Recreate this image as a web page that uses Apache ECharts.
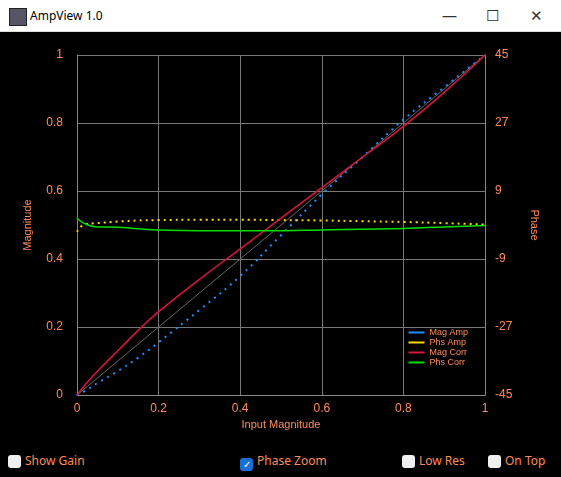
<!DOCTYPE html>
<html><head><meta charset="utf-8">
<script src="https://cdn.jsdelivr.net/npm/echarts@6/dist/echarts.min.js"></script>
<style>
body{margin:0;width:561px;height:477px;overflow:hidden;font-family:"Segoe UI","Noto Sans",sans-serif;background:#000}
#bar{position:absolute;left:0;top:0;width:561px;height:31px;background:#fff;border-bottom:1px solid #ddd}
#bar .t{position:absolute;left:30px;top:7px;font-size:12px;color:#000}
#bar .ic{position:absolute;left:9px;top:8px;width:16px;height:16px;background:#556;border:1px solid #222}
#bar .b{position:absolute;top:5px;font-size:15px;color:#333}
#chart{position:absolute;left:0;top:32px;width:561px;height:410px}
.cb{position:absolute;top:452px;font-size:12px;color:#ff8c5a}
.cb i{display:inline-block;width:13px;height:13px;border-radius:3px;background:#f0f0f0;vertical-align:-3px;margin-right:4px}
.cb i.on{background:#1a6fd0;color:#fff;font-style:normal;font-size:10px;line-height:13px;text-align:center}
</style></head><body>
<div id="bar"><div class="ic"></div><span class="t">AmpView 1.0</span>
<span class="b" style="left:442px">&#8212;</span><span class="b" style="left:486px">&#9744;</span><span class="b" style="left:530px">&#10005;</span></div>
<div id="chart"></div>
<div class="cb" style="left:8px"><i></i>Show Gain</div>
<div class="cb" style="left:240px"><i class="on">&#10003;</i>Phase Zoom</div>
<div class="cb" style="left:402px"><i></i>Low Res</div>
<div class="cb" style="left:488px"><i></i>On Top</div>
<script>
var xs      = [0, 0.02, 0.05, 0.1, 0.15, 0.2, 0.3, 0.4, 0.5, 0.6, 0.7, 0.8, 0.9, 1];
var magAmp  = [0, 0.012, 0.035, 0.07, 0.11, 0.155, 0.25, 0.35, 0.47, 0.59, 0.70, 0.81, 0.905, 1];
var magCorr = [0, 0.03, 0.07, 0.13, 0.19, 0.245, 0.34, 0.43, 0.52, 0.61, 0.70, 0.79, 0.89, 1];
var phsAmp  = [-1.8, 0.2, 0.5, 0.9, 1.2, 1.3, 1.4, 1.4, 1.3, 1.2, 1.0, 0.8, 0.5, 0.1];
var phsCorr = [1.8, 0.3, -0.5, -0.6, -1.0, -1.3, -1.5, -1.5, -1.5, -1.3, -1.1, -0.9, -0.5, -0.1];
var magTicks = [0, 0.2, 0.4, 0.6, 0.8, 1];

function pairs(a){ return xs.map(function(x,i){ return [x,a[i]]; }); }
var orange = '#ff8c5a';
var myChart = echarts.init(document.getElementById('chart'));
var option = {
  backgroundColor: '#000',
  animation: false,
  grid: {left: 77, right: 76, top: 23, bottom: 47},
  legend: {
    right: 88, bottom: 70, orient: 'vertical', itemGap: 1,
    itemWidth: 16, itemHeight: 2, icon: 'rect',
    textStyle: {color: orange, fontSize: 9},
    data: ['Mag Amp', 'Phs Amp', 'Mag Corr', 'Phs Corr']
  },
  xAxis: {
    type: 'value', min: 0, max: 1, interval: 0.2,
    name: 'Input Magnitude', nameLocation: 'middle', nameGap: 21,
    nameTextStyle: {color: orange, fontSize: 11},
    axisLabel: {color: orange, fontSize: 12},
    axisLine: {lineStyle: {color: '#888'}}, axisTick: {show: false},
    splitLine: {lineStyle: {color: '#777'}}
  },
  yAxis: [{
    type: 'value', min: 0, max: 1, interval: 0.2,
    name: 'Magnitude', nameLocation: 'middle', nameGap: 44, nameRotate: 90,
    nameTextStyle: {color: orange, fontSize: 11},
    axisLabel: {color: orange, fontSize: 12, margin: 14, formatter: function(v){ return magTicks.indexOf(+v.toFixed(1)) >= 0 ? String(+v.toFixed(1)) : ''; }},
    axisLine: {show: true, lineStyle: {color: '#888'}}, axisTick: {show: false},
    splitLine: {lineStyle: {color: '#777'}}
  }, {
    type: 'value', min: -45, max: 45, interval: 18, position: 'right',
    name: 'Phase', nameLocation: 'middle', nameGap: 44, nameRotate: -90,
    nameTextStyle: {color: orange, fontSize: 11},
    axisLabel: {color: orange, fontSize: 12, margin: 10},
    axisLine: {show: true, lineStyle: {color: '#888'}}, axisTick: {show: false},
    splitLine: {show: false}
  }],
  series: [
    {type: 'line', name: 'ref', data: [[0,0],[1,1]], symbol: 'none', silent: true,
     lineStyle: {color: '#666', width: 1}},
    {type: 'line', name: 'Mag Amp', data: pairs(magAmp), symbol: 'none', smooth: true, color: '#1e90ff',
     lineStyle: {color: '#1e90ff', width: 2, type: [2, 5]}},
    {type: 'line', name: 'Phs Amp', yAxisIndex: 1, data: pairs(phsAmp), symbol: 'none', smooth: true, color: '#ffd700',
     lineStyle: {color: '#ffd700', width: 2, type: [2, 4]}},
    {type: 'line', name: 'Mag Corr', data: pairs(magCorr), symbol: 'none', smooth: true, color: '#dc143c',
     lineStyle: {color: '#dc143c', width: 1.5}},
    {type: 'line', name: 'Phs Corr', yAxisIndex: 1, data: pairs(phsCorr), symbol: 'none', smooth: true, color: '#00e000',
     lineStyle: {color: '#00e000', width: 1.5}}
  ]
};
option && myChart.setOption(option);
</script>
</body></html>
